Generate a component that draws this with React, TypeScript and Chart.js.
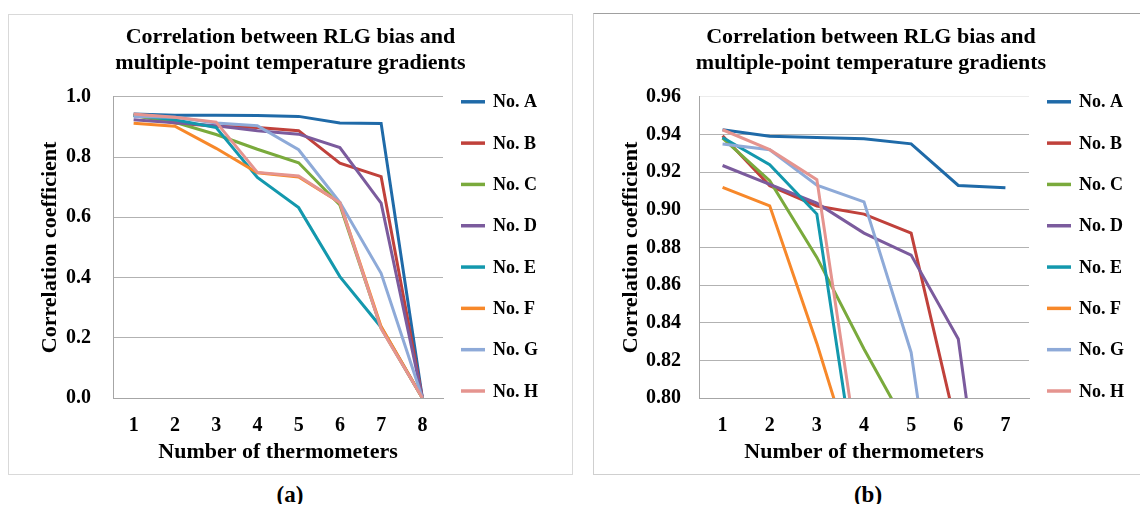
import React, { useEffect, useRef } from 'react';
import Chart from 'chart.js/auto';

const FONT = '"Liberation Serif", "Times New Roman", serif';

const titleLines = ['Correlation between RLG bias and', 'multiple-point temperature gradients'];
const yAxisTitle = 'Correlation coefficient';
const xAxisTitle = 'Number of thermometers';

const thermometersA = ['1', '2', '3', '4', '5', '6', '7', '8'];
const thermometersB = ['1', '2', '3', '4', '5', '6', '7'];

const seriesNames = ['No. A', 'No. B', 'No. C', 'No. D', 'No. E', 'No. F', 'No. G', 'No. H'];
const seriesColors = ['#1f6aa8', '#c0413b', '#7aaa3c', '#7b5b9d', '#1398ad', '#f7882a', '#8eaad8', '#e5948f'];

const noA = [0.9425, 0.9391, 0.9384, 0.9377, 0.935, 0.9129, 0.9117, 0];
const noB = [0.9393, 0.9127, 0.902, 0.8977, 0.8876, 0.78, 0.735, 0];
const noC = [0.938, 0.9154, 0.8747, 0.826, 0.781, 0.641, 0.232, 0];
const noD = [0.9235, 0.9135, 0.9035, 0.8876, 0.8759, 0.8313, 0.647, 0];
const noE = [0.9384, 0.9239, 0.8977, 0.732, 0.632, 0.403, 0.235, 0];
const noF = [0.9119, 0.9021, 0.829, 0.748, 0.734, 0.649, 0.237, 0];
const noG = [0.9349, 0.9319, 0.913, 0.9042, 0.8242, 0.65, 0.414, 0];
const noH = [0.9425, 0.9319, 0.916, 0.749, 0.737, 0.648, 0.23, 0];
const allSeries = [noA, noB, noC, noD, noE, noF, noG, noH];

const yTicksA = { min: 0, max: 1, step: 0.2, decimals: 1 };
const yTicksB = { min: 0.8, max: 0.96, step: 0.02, decimals: 2 };

const sideLegend = {
  id: 'sideLegend',
  afterDraw(chart: any) {
    const { ctx, chartArea } = chart;
    const ds = chart.data.datasets;
    const n = ds.length;
    const step = (chartArea.bottom - chartArea.top - 12) / (n - 1);
    ctx.save();
    ds.forEach((d: any, i: number) => {
      const y = chartArea.top + 5 + i * step;
      ctx.strokeStyle = d.borderColor;
      ctx.lineWidth = 3.5;
      ctx.beginPath();
      ctx.moveTo(chartArea.right + 18, y);
      ctx.lineTo(chartArea.right + 42, y);
      ctx.stroke();
      ctx.fillStyle = '#000';
      ctx.font = `bold 18px ${FONT}`;
      ctx.textBaseline = 'middle';
      ctx.textAlign = 'left';
      ctx.fillText(d.label, chartArea.right + 50, y + 1);
    });
    ctx.restore();
  },
};

type PanelProps = {
  labels: string[];
  ticks: { min: number; max: number; step: number; decimals: number };
  width: number;
  height: number;
  yAxisWidth: number;
  yTitleLeft: number;
  legendWidth: number;
  titleTop: number;
  tickPad: number;
  fadeTop: boolean;
};

function Panel(p: PanelProps) {
  const ref = useRef<HTMLCanvasElement | null>(null);
  useEffect(() => {
    if (!ref.current) return;
    const n = p.labels.length;
    const chart = new Chart(ref.current, {
      type: 'line',
      data: {
        labels: p.labels,
        datasets: allSeries.map((s, i) => ({
          label: seriesNames[i],
          data: s.slice(0, n),
          borderColor: seriesColors[i],
          backgroundColor: seriesColors[i],
          borderWidth: 3,
          pointRadius: 0,
          tension: 0,
          fill: false,
          order: allSeries.length - i,
          clip: 0,
        })),
      },
      options: {
        animation: false,
        responsive: false,
        maintainAspectRatio: false,
        layout: { padding: { left: 0, right: 0, top: 0, bottom: 8 } },
        plugins: {
          legend: { display: false },
          tooltip: { enabled: false },
          title: {
            display: true,
            text: titleLines,
            color: '#000',
            font: { family: FONT, size: 22, weight: 'bold', lineHeight: 1.2 },
            padding: { top: p.titleTop, bottom: 20 },
          },
        },
        scales: {
          x: {
            type: 'category',
            offset: true,
            grid: { display: false, drawTicks: false },
            border: { display: true, color: '#a6a6a6', width: 1 },
            ticks: {
              color: '#000',
              padding: 16,
              font: { family: FONT, size: 20, weight: 'bold', lineHeight: 1.2 },
            },
            title: {
              display: true,
              text: xAxisTitle,
              color: '#000',
              font: { family: FONT, size: 22, weight: 'bold', lineHeight: 1.2 },
              padding: { top: 2, bottom: 0 },
            },
            afterFit: (s: any) => {
              s.height = 68;
            },
          },
          y: {
            min: p.ticks.min,
            max: p.ticks.max,
            grid: {
              drawTicks: false,
              lineWidth: 1,
              color: (c: any) =>
                p.fadeTop && Math.abs(c.tick.value - p.ticks.max) < 1e-9 ? '#ececec' : '#b2b2b2',
            },
            border: { display: true, color: '#a6a6a6', width: 1 },
            ticks: {
              stepSize: p.ticks.step,
              color: '#000',
              padding: p.tickPad,
              font: { family: FONT, size: 20, weight: 'bold', lineHeight: 1.2 },
              callback: (v: any) => Number(v).toFixed(p.ticks.decimals),
            },
            title: {
              display: true,
              text: yAxisTitle,
              color: '#000',
              font: { family: FONT, size: 22, weight: 'bold', lineHeight: 1.2 },
              padding: { top: p.yTitleLeft, bottom: 4 },
            },
            afterFit: (s: any) => {
              s.width = p.yAxisWidth;
            },
          },
          legendSpace: {
            type: 'linear',
            position: 'right',
            display: true,
            grid: { display: false, drawTicks: false },
            border: { display: false },
            ticks: { display: false },
            afterFit: (s: any) => {
              s.width = p.legendWidth;
            },
          },
        },
      },
      plugins: [sideLegend],
    });
    return () => chart.destroy();
  }, []);
  return <canvas ref={ref} width={p.width} height={p.height} style={{ display: 'block', width: p.width, height: p.height }} />;
}

const captionStyle: React.CSSProperties = {
  position: 'absolute',
  width: 100,
  textAlign: 'center',
  fontFamily: FONT,
  fontWeight: 'bold',
  fontSize: 23,
  lineHeight: '26px',
  color: '#000',
};

export default function App() {
  return (
    <div style={{ position: 'relative', width: 1148, height: 512, overflow: 'hidden', margin: -8, background: '#fff' }}>
      <div style={{ position: 'absolute', left: 8, top: 14, width: 563, height: 459, border: '1px solid #d9d9d9' }}>
        <Panel
          labels={thermometersA}
          ticks={yTicksA}
          width={563}
          height={459}
          yAxisWidth={104}
          yTitleLeft={28}
          legendWidth={129}
          titleTop={9}
          tickPad={22}
          fadeTop={false}
        />
      </div>
      <div
        style={{
          position: 'absolute',
          left: 593,
          top: 13,
          width: 554,
          height: 460,
          borderTop: '1px solid #a0a0a0',
          borderLeft: '1px solid #cfcfcf',
          borderBottom: '1px solid #cfcfcf',
        }}
      >
        <Panel
          labels={thermometersB}
          ticks={yTicksB}
          width={554}
          height={460}
          yAxisWidth={105}
          yTitleLeft={24}
          legendWidth={119}
          titleTop={10}
          tickPad={18}
          fadeTop={true}
        />
      </div>
      <div style={{ ...captionStyle, left: 240, top: 482 }}>(a)</div>
      <div style={{ ...captionStyle, left: 818, top: 482 }}>(b)</div>
    </div>
  );
}
